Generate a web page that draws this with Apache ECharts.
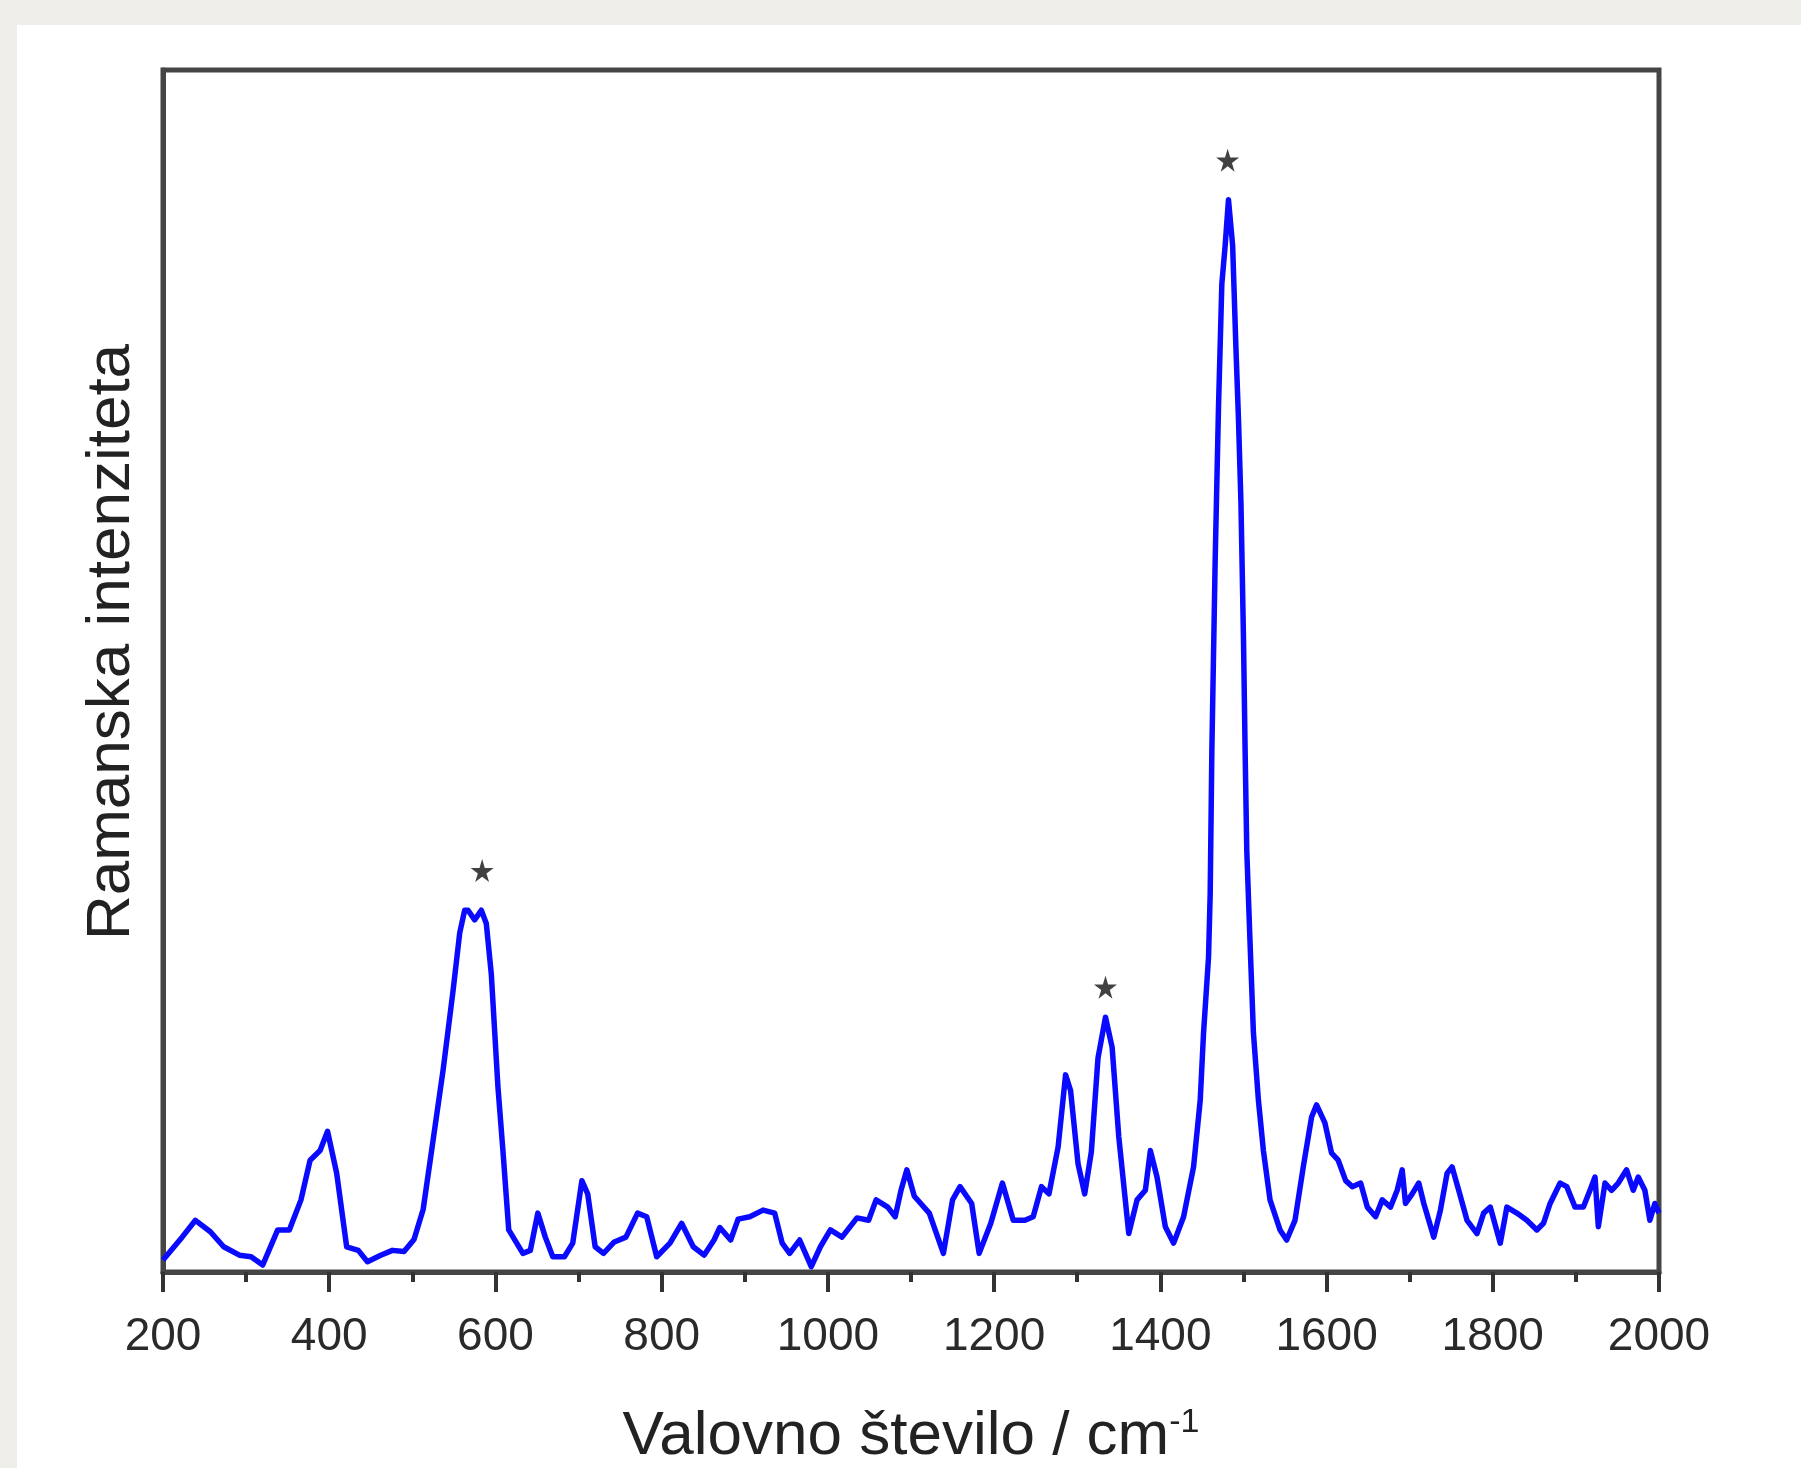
<!DOCTYPE html>
<html>
<head>
<meta charset="utf-8">
<script src="https://cdn.jsdelivr.net/npm/echarts@6/dist/echarts.min.js"></script>
<style>
  html, body { margin: 0; padding: 0; }
  body { width: 1801px; height: 1468px; background: #efeee8; position: relative; overflow: hidden; }
  #card { position: absolute; left: 17px; top: 25px; width: 1784px; height: 1443px; background: #ffffff; }
  #chart { position: absolute; left: 0; top: 0; width: 1801px; height: 1468px; }
</style>
</head>
<body>
<div id="card"></div>
<div id="chart"></div>
<script>
// Wavenumbers (cm^-1)
const wavenumbers = [200,223,239,257,273,292,306,320,338,352,366,377,389,398,409,421,435,446,462,476,490,502,513,524,537,549,557,563,567,575,583,589,595,603,609,616,633,642,651,660,669,683,693,704,711,720,730,743,757,771,782,794,810,824,838,851,863,870,883,892,906,922,936,945,954,966,980,991,1003,1017,1035,1049,1058,1072,1081,1088,1095,1104,1122,1139,1150,1159,1173,1182,1196,1210,1223,1237,1247,1257,1266,1277,1286,1292,1301,1309,1317,1325,1334,1342,1350,1362,1372,1382,1388,1396,1406,1416,1428,1440,1448,1452,1458,1460,1462,1466,1470,1474,1478,1482,1487,1491,1494,1497,1500,1502,1504,1508,1512,1518,1524,1532,1544,1552,1562,1572,1582,1588,1598,1606,1614,1623,1631,1641,1649,1659,1667,1677,1685,1691,1695,1703,1711,1717,1729,1737,1745,1751,1759,1769,1781,1789,1797,1809,1817,1829,1841,1853,1861,1869,1881,1889,1899,1909,1917,1923,1927,1935,1943,1951,1961,1969,1975,1983,1989,1995,2000];
// Raman intensity (arbitrary units, 0 = bottom axis, 100 = top frame)
const intensities = [1.0,2.9,4.3,3.35,2.1,1.4,1.27,0.58,3.5,3.5,6.0,9.3,10.1,11.7,8.2,2.1,1.8,0.86,1.4,1.8,1.7,2.7,5.2,10.5,16.8,23.4,28.2,30.1,30.1,29.3,30.1,29.0,24.8,15.4,10.1,3.5,1.55,1.8,4.9,2.9,1.27,1.27,2.4,7.6,6.5,2.1,1.55,2.5,2.9,4.9,4.6,1.27,2.4,4.05,2.1,1.4,2.66,3.7,2.66,4.4,4.6,5.15,4.9,2.4,1.55,2.66,0.44,2.1,3.5,2.9,4.5,4.3,6.0,5.4,4.6,6.8,8.5,6.3,4.9,1.55,6.0,7.1,5.7,1.55,4.05,7.4,4.3,4.3,4.6,7.1,6.5,10.4,16.4,15.1,9.0,6.5,10.0,17.8,21.2,18.7,11.25,3.2,6.0,6.8,10.1,7.9,3.77,2.4,4.6,8.75,14.3,19.9,26.2,31.5,43.4,59.3,72,82.2,85.4,89.2,85.4,76.8,71,64,52.9,43.4,35.1,27.3,19.9,14.3,10.1,6.0,3.5,2.66,4.3,8.75,12.9,13.9,12.4,9.9,9.3,7.6,7.1,7.4,5.4,4.6,6.0,5.4,6.8,8.5,5.7,6.5,7.4,5.7,2.9,5.15,8.2,8.75,6.8,4.3,3.2,4.9,5.4,2.4,5.4,4.9,4.3,3.5,4.05,5.7,7.4,7.1,5.4,5.4,6.8,7.9,3.77,7.4,6.8,7.4,8.5,6.8,7.9,6.8,4.3,5.7,4.9];
// Peak markers (asterisks)
const starWavenumbers = [584, 1334, 1481];
const starIntensities = [33.4, 23.7, 92.5];
// Axis
const xMin = 200, xMax = 2000, xStep = 200;
const xTitle = 'Valovno število / cm{sup|-1}';
const yTitle = 'Ramanska intenziteta';

const FONT = "'Liberation Sans', Arial, Helvetica, sans-serif";
const spectrum = wavenumbers.map((w, i) => [w, intensities[i]]);
const stars = starWavenumbers.map((w, i) => [w, starIntensities[i]]);
const STAR = 'path://M50,0 L61,35 L98,35 L68,57 L79,91 L50,70 L21,91 L32,57 L2,35 L39,35 Z';

const chart = echarts.init(document.getElementById('chart'), null, { renderer: 'canvas' });
chart.setOption({
  animation: false,
  backgroundColor: 'transparent',
  grid: { left: 163, right: 142, top: 70, bottom: 196, containLabel: false, outerBoundsMode: 'none',
    show: true, borderColor: '#454545', borderWidth: 5, backgroundColor: 'transparent' },
  xAxis: {
    type: 'value', min: xMin, max: xMax, interval: xStep,
    axisLine: { show: true, lineStyle: { color: '#454545', width: 5 } },
    axisTick: { show: true, length: 20, lineStyle: { color: '#333', width: 4 } },
    minorTick: { show: true, splitNumber: 2, length: 10, lineStyle: { color: '#333', width: 4 } },
    splitLine: { show: false },
    axisLabel: { fontSize: 46, color: '#2a2a2a', margin: 42, fontFamily: FONT, formatter: v => String(v) },
    name: xTitle, nameLocation: 'middle', nameGap: 134,
    nameTextStyle: { fontSize: 62, color: '#222', fontFamily: FONT,
      rich: { sup: { fontSize: 34, color: '#222', fontFamily: FONT, verticalAlign: 'top' } } }
  },
  yAxis: {
    type: 'value', min: 0, max: 100,
    axisLine: { show: true, lineStyle: { color: '#454545', width: 5 } },
    axisTick: { show: false }, axisLabel: { show: false }, splitLine: { show: false },
    name: yTitle, nameLocation: 'middle', nameRotate: 90, nameGap: 20,
    nameTextStyle: { fontSize: 62, color: '#222', fontFamily: FONT, padding: [0, 0, 0, 58] }
  },
  series: [
    { type: 'line', data: spectrum, showSymbol: false, symbol: 'none', smooth: false,
      lineStyle: { color: '#0a0aff', width: 5.5, join: 'round' }, z: 3 },
    { type: 'scatter', data: stars, symbol: STAR, symbolSize: 23,
      itemStyle: { color: '#111' }, z: 4 }
  ]
});
</script>
</body>
</html>
